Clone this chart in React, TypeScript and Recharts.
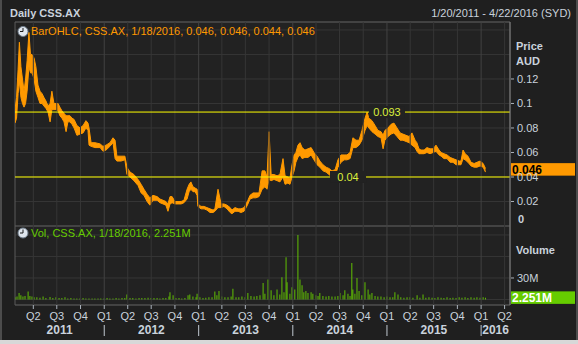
import React from "react";
import {
  ComposedChart,
  Area,
  Bar,
  XAxis,
  YAxis,
  CartesianGrid,
  ReferenceLine,
  ReferenceDot,
  ReferenceArea,
} from "recharts";

// ---------- data ----------
// x values are days counted from 2011-01-01
const priceDays = [
  19, 25, 31, 36, 42, 48, 54, 60, 66, 73,
  79, 85, 93, 100, 108, 116, 124, 131, 139, 147,
  155, 162, 170, 178, 186, 193, 201, 209, 217, 224,
  232, 240, 248, 259, 271, 283, 294, 302, 306, 314,
  329, 349, 360, 372, 387, 399, 407, 414, 430, 445,
  453, 465, 480, 496, 508, 519, 531, 542, 554, 570,
  581, 593, 604, 612, 620, 628, 639, 651, 663, 674,
  686, 694, 701, 709, 717, 725, 728, 740, 752, 763,
  775, 787, 794, 806, 818, 829, 841, 853, 860, 872,
  884, 895, 907, 915, 922, 930, 942, 953, 965, 977,
  988, 996, 1004, 1012, 1023, 1035, 1046, 1058, 1066, 1077,
  1085, 1093, 1101, 1108, 1116, 1124, 1132, 1143, 1155, 1167,
  1178, 1190, 1201, 1213, 1225, 1236, 1248, 1260, 1271, 1283,
  1295, 1306, 1318, 1329, 1341, 1353, 1364, 1376, 1384, 1391,
  1403, 1415, 1426, 1438, 1446, 1453, 1465, 1477, 1488, 1500,
  1512, 1523, 1535, 1547, 1558, 1570, 1577, 1585, 1593, 1605,
  1616, 1628, 1640, 1651, 1663, 1671, 1682, 1694, 1706, 1717,
  1729, 1741, 1748, 1756, 1764, 1775, 1787, 1799, 1810, 1822,
  1834, 1843,
];
const priceLows = [
  0.084, 0.088, 0.108, 0.118, 0.105, 0.1, 0.097, 0.1, 0.11, 0.13,
  0.125, 0.125, 0.12, 0.11, 0.105, 0.1, 0.1, 0.098, 0.096, 0.093,
  0.085, 0.095, 0.095, 0.095, 0.094, 0.09, 0.088, 0.085, 0.077, 0.085,
  0.085, 0.083, 0.08, 0.074, 0.075, 0.076, 0.08, 0.078, 0.066, 0.065,
  0.064, 0.064, 0.061, 0.062, 0.065, 0.068, 0.055, 0.053, 0.053, 0.054,
  0.042, 0.04, 0.037, 0.033, 0.027, 0.025, 0.02, 0.017, 0.021, 0.021,
  0.019, 0.018, 0.017, 0.012, 0.018, 0.019, 0.018, 0.018, 0.018, 0.019,
  0.022, 0.028, 0.03, 0.028, 0.028, 0.025, 0.016, 0.014, 0.014, 0.013,
  0.011, 0.011, 0.012, 0.015, 0.015, 0.016, 0.014, 0.011, 0.01, 0.012,
  0.012, 0.011, 0.012, 0.015, 0.018, 0.022, 0.023, 0.023, 0.024, 0.03,
  0.032, 0.03, 0.038, 0.037, 0.038, 0.037, 0.036, 0.04, 0.034, 0.035,
  0.034, 0.04, 0.045, 0.052, 0.056, 0.058, 0.055, 0.056, 0.056, 0.058,
  0.054, 0.05, 0.048, 0.045, 0.044, 0.042, 0.04, 0.041, 0.048, 0.052,
  0.054, 0.054, 0.055, 0.064, 0.064, 0.066, 0.07, 0.078, 0.082, 0.08,
  0.077, 0.075, 0.073, 0.072, 0.063, 0.07, 0.073, 0.075, 0.076, 0.073,
  0.07, 0.07, 0.069, 0.068, 0.066, 0.064, 0.061, 0.059, 0.059, 0.059,
  0.06, 0.059, 0.06, 0.061, 0.058, 0.057, 0.055, 0.055, 0.052, 0.052,
  0.05, 0.05, 0.05, 0.055, 0.054, 0.052, 0.049, 0.048, 0.048, 0.049,
  0.048, 0.044,
];
const priceHighs = [
  0.095, 0.105, 0.128, 0.15, 0.13, 0.12, 0.11, 0.12, 0.135, 0.158,
  0.14, 0.14, 0.137, 0.13, 0.115, 0.11, 0.108, 0.105, 0.102, 0.098,
  0.1, 0.11, 0.1, 0.1, 0.1, 0.097, 0.094, 0.092, 0.09, 0.09,
  0.09, 0.088, 0.087, 0.082, 0.08, 0.082, 0.086, 0.084, 0.08, 0.068,
  0.068, 0.067, 0.065, 0.066, 0.068, 0.072, 0.07, 0.057, 0.057, 0.057,
  0.048, 0.044, 0.042, 0.038, 0.034, 0.03, 0.026, 0.023, 0.025, 0.024,
  0.022, 0.021, 0.02, 0.018, 0.024, 0.024, 0.02, 0.02, 0.02, 0.021,
  0.03, 0.034, 0.036, 0.032, 0.031, 0.03, 0.018, 0.016, 0.016, 0.015,
  0.014, 0.013, 0.014, 0.03, 0.018, 0.018, 0.017, 0.015, 0.013, 0.015,
  0.014, 0.014, 0.015, 0.018, 0.021, 0.025, 0.027, 0.027, 0.027, 0.045,
  0.045, 0.04, 0.077, 0.042, 0.042, 0.041, 0.042, 0.055, 0.041, 0.04,
  0.039, 0.05, 0.058, 0.06, 0.066, 0.068, 0.064, 0.062, 0.063, 0.064,
  0.06, 0.057, 0.053, 0.05, 0.048, 0.047, 0.045, 0.046, 0.054, 0.058,
  0.058, 0.058, 0.06, 0.072, 0.07, 0.07, 0.078, 0.088, 0.093, 0.088,
  0.086, 0.082, 0.078, 0.077, 0.074, 0.078, 0.08, 0.083, 0.084, 0.08,
  0.076, 0.075, 0.074, 0.073, 0.076, 0.07, 0.068, 0.063, 0.062, 0.062,
  0.064, 0.063, 0.063, 0.066, 0.062, 0.06, 0.059, 0.058, 0.056, 0.055,
  0.054, 0.053, 0.053, 0.062, 0.059, 0.057, 0.052, 0.051, 0.052, 0.053,
  0.051, 0.047,
];

const volumeDays = [
  19, 27, 35, 42, 50, 58, 70, 77, 85, 93,
  104, 116, 128, 139, 155, 166, 178, 190, 201, 213,
  224, 236, 248, 259, 271, 283, 294, 306, 318, 329,
  341, 352, 364, 376, 387, 399, 411, 422, 434, 445,
  453, 465, 476, 488, 500, 511, 523, 535, 546, 558,
  570, 581, 593, 604, 616, 620, 632, 643, 655, 666,
  678, 690, 697, 709, 721, 725, 736, 748, 759, 771,
  783, 794, 802, 810, 821, 833, 845, 857, 864, 876,
  887, 899, 911, 922, 934, 946, 957, 969, 981, 988,
  1000, 1012, 1023, 1035, 1046, 1054, 1062, 1070, 1074, 1085,
  1093, 1104, 1116, 1124, 1132, 1139, 1147, 1155, 1167, 1174,
  1186, 1194, 1201, 1213, 1225, 1236, 1248, 1260, 1271, 1279,
  1291, 1298, 1310, 1318, 1325, 1329, 1337, 1345, 1353, 1364,
  1376, 1388, 1395, 1403, 1415, 1426, 1438, 1450, 1461, 1473,
  1484, 1492, 1504, 1515, 1527, 1539, 1550, 1562, 1578, 1589,
  1601, 1612, 1624, 1636, 1647, 1659, 1671, 1682, 1694, 1706,
  1717, 1729, 1741, 1752, 1764, 1775, 1787, 1799, 1810, 1822,
  1834, 1843,
];
const volumeMillions = [
  3, 4, 9, 6, 4, 5, 11, 5, 4, 3,
  3, 2.5, 4, 2, 3.5, 2, 3, 2, 2, 3,
  1.5, 2, 1.5, 1.5, 1.5, 2, 1.5, 1.5, 1.5, 1.5,
  1.5, 1.5, 1.5, 2, 1.5, 1.5, 2, 1.5, 2, 2,
  7, 2, 2, 1.5, 2, 2, 2, 2.5, 2, 2,
  2, 1.5, 2, 2, 4, 10, 6, 2, 2, 1.5,
  2, 6, 7, 4, 3, 8, 3, 2, 2.5, 3,
  3, 11, 6, 12, 4, 3, 3, 4, 15, 3,
  3, 4, 3, 9, 5, 4, 5, 6, 23, 8,
  28, 13, 6, 14, 7, 31, 10, 59, 24, 8,
  17, 14, 90, 28, 20, 10, 12, 9, 10, 8,
  6, 5, 9, 5, 4, 5, 4, 4, 5, 9,
  6, 13, 8, 5, 51, 14, 8, 30, 12, 6,
  24, 14, 7, 9, 5, 4, 4, 3, 4, 3,
  3, 10, 7, 3, 2.5, 3, 3, 2.5, 6, 2.5,
  7, 2.5, 3, 2.5, 2, 3, 2.5, 2, 3, 2,
  2.5, 2, 3, 2.5, 3, 2, 3, 2.5, 3, 2.5,
  3, 2.251,
];

const quarterDays = [
  90, 181, 273, 365, 456, 547, 639, 731, 821, 912, 1004,
  1096, 1186, 1277, 1369, 1461, 1551, 1642, 1734, 1826, 1917,
];
const quarterLabels = [
  "Q2", "Q3", "Q4", "Q1", "Q2", "Q3", "Q4", "Q1", "Q2", "Q3", "Q4",
  "Q1", "Q2", "Q3", "Q4", "Q1", "Q2", "Q3", "Q4", "Q1", "Q2",
];
const yearStartDays = [365, 731, 1096, 1461, 1826];
const yearLabelDays = [192, 548, 913, 1278, 1643, 1882];
const yearLabels = ["2011", "2012", "2013", "2014", "2015", "2016"];

const priceTicks = [0, 0.02, 0.04, 0.06, 0.08, 0.1, 0.12, 0.14, 0.16];
const priceTickLabels = ["0", "0.02", "0.04", "0.06", "0.08", "0.1", "0.12", "", ""];
const volumeTicks = [0, 30e6, 60e6, 90e6];
const volumeTickLabels = ["", "30M", "", ""];

const levelValues = [0.093, 0.04];
const levelLabels = ["0.093", "0.04"];
const levelLabelDays = [1461, 1310];

const lastPrice = 0.046;
const lastPriceLabel = "0.046";
const lastVolume = 2.251e6;
const lastVolumeLabel = "2.251M";

const X_DOMAIN: [number, number] = [19, 1938];
const PRICE_DOMAIN: [number, number] = [0, 0.1665];
const VOLUME_DOMAIN: [number, number] = [-7.7e6, 102.5e6];

const priceRows = priceDays.map((d, i) => ({ day: d, range: [priceLows[i], priceHighs[i]] }));
const volumeRows = volumeDays.map((d, i) => ({ day: d, vol: volumeMillions[i] * 1e6 }));
const dateTicks = [...quarterDays, ...yearLabelDays].sort((a, b) => a - b);

// ---------- style ----------
const FONT = '"Liberation Sans", Arial, sans-serif';
const TEXT = "#c9d2dc";
const ORANGE = "#ff9900";
const GREEN = "#66cc00";
const BG = "#1f1f1f";
const PLOT_BG = "#222222";
const GRID = "#363636";
const YEAR_GRID = "#424242";
const BORDER = "#5a5a5a";

const renderPriceTick = (p: any) => {
  const v = p.payload.value;
  const label = priceTickLabels[priceTicks.indexOf(v)];
  if (!label) return <g />;
  if (v === 0) {
    return (
      <text x={p.x + 1} y={p.y - 3} fill={TEXT} fontSize={11} fontWeight="bold" fontFamily={FONT}>
        {label}
      </text>
    );
  }
  return (
    <g>
      <line x1={p.x - 6} x2={p.x - 3} y1={p.y} y2={p.y} stroke="#aab2bb" />
      <text x={p.x} y={p.y + 4} fill={TEXT} fontSize={11} fontFamily={FONT}>
        {label}
      </text>
    </g>
  );
};

const renderVolumeTick = (p: any) => {
  const v = p.payload.value;
  const label = volumeTickLabels[volumeTicks.indexOf(v)];
  if (!label) return <g />;
  return (
    <g>
      <line x1={p.x - 6} x2={p.x - 3} y1={p.y} y2={p.y} stroke="#aab2bb" />
      <text x={p.x} y={p.y + 4} fill={TEXT} fontSize={11} fontFamily={FONT}>
        {label}
      </text>
    </g>
  );
};

const renderDateTick = (p: any) => {
  const v = p.payload.value;
  const qi = quarterDays.indexOf(v);
  const yi = yearLabelDays.indexOf(v);
  if (qi >= 0) {
    return (
      <g>
        <line x1={p.x} x2={p.x} y1={p.y} y2={p.y + 4} stroke="#aab2bb" />
        <text x={p.x} y={p.y + 15} textAnchor="middle" fill={TEXT} fontSize={11} fontFamily={FONT}>
          {quarterLabels[qi]}
        </text>
        {yearStartDays.includes(v) ? (
          <line x1={p.x} x2={p.x} y1={p.y + 20} y2={p.y + 31} stroke="#c0c8d0" />
        ) : null}
      </g>
    );
  }
  if (yi >= 0) {
    return (
      <text x={p.x} y={p.y + 28.6} textAnchor="middle" fill={TEXT} fontSize={12} fontWeight="bold" fontFamily={FONT}>
        {yearLabels[yi]}
      </text>
    );
  }
  return <g />;
};

const valueTag = (text: string, bg: string, color: string) => (props: any) => {
  const vb = props.viewBox || {};
  const x = vb.x + vb.width + 1;
  const y = vb.y;
  return (
    <g>
      <rect x={x} y={y - 6.5} width={64} height={12.5} fill={bg} />
      <text x={x + 1} y={y + 4.3} fill={color} fontSize={12} fontWeight="bold" fontFamily={FONT}>
        {text}
      </text>
    </g>
  );
};

const levelTag = (text: string) => (props: any) => {
  const { cx, cy } = props;
  return (
    <g>
      <rect x={cx - 18} y={cy - 6} width={36} height={12} fill={PLOT_BG} />
      <text x={cx} y={cy + 4} textAnchor="middle" fill="#dcf03c" fontSize={11} fontFamily={FONT}>
        {text}
      </text>
    </g>
  );
};

const Clock = ({ cx, cy }: { cx: number; cy: number }) => (
  <g>
    <circle cx={cx} cy={cy} r={5} fill="#dfe6ee" stroke="#6f7c8a" />
    <line x1={cx} y1={cy} x2={cx} y2={cy - 3.5} stroke="#1a1a1a" />
    <line x1={cx} y1={cy} x2={cx - 3} y2={cy} stroke="#1a1a1a" />
  </g>
);

export default function App() {
  return (
    <div
      style={{
        position: "absolute",
        left: 0,
        top: 0,
        width: 578,
        height: 344,
        background: BG,
        overflow: "hidden",
        fontFamily: FONT,
      }}
    >
      <div style={{ position: "absolute", left: 0, top: 0 }}>
        <ComposedChart width={578} height={226} data={priceRows} margin={{ top: 22, right: 0, bottom: 0, left: 15 }}>
          <CartesianGrid vertical={false} stroke={GRID} fill={PLOT_BG} fillOpacity={1} />
          <XAxis dataKey="day" type="number" domain={X_DOMAIN} hide allowDataOverflow />
          <YAxis
            orientation="right"
            width={68}
            domain={PRICE_DOMAIN}
            ticks={priceTicks}
            interval={0}
            tick={renderPriceTick}
            tickLine={false}
            tickSize={4}
            tickMargin={3}
            axisLine={{ stroke: "#7a7a7a" }}
            allowDataOverflow
          />
          {quarterDays.map((d) => (
            <ReferenceLine key={"pq" + d} x={d} stroke={yearStartDays.includes(d) ? YEAR_GRID : GRID} />
          ))}
          <ReferenceArea
            x1={X_DOMAIN[0]}
            x2={X_DOMAIN[1]}
            y1={PRICE_DOMAIN[0]}
            y2={PRICE_DOMAIN[1]}
            fill="none"
            stroke={BORDER}
            ifOverflow="visible"
          />
          <Area
            dataKey="range"
            type="linear"
            stroke={ORANGE}
            strokeWidth={1}
            fill={ORANGE}
            fillOpacity={1}
            dot={false}
            activeDot={false}
            isAnimationActive={false}
          />
          {levelValues.map((v) => (
            <ReferenceLine key={"lv" + v} y={v} stroke="#ffff00" />
          ))}
          {levelValues.map((v, i) => (
            <ReferenceDot key={"ld" + v} x={levelLabelDays[i]} y={v} r={0} shape={levelTag(levelLabels[i])} />
          ))}
          <ReferenceLine y={lastPrice} stroke="none" label={valueTag(lastPriceLabel, ORANGE, "#000000")} />
        </ComposedChart>
      </div>

      <div style={{ position: "absolute", left: 0, top: 226 }}>
        <ComposedChart width={578} height={118} data={volumeRows} margin={{ top: 0, right: 0, bottom: 0, left: 15 }}>
          <CartesianGrid vertical={false} stroke={GRID} fill={PLOT_BG} fillOpacity={1} />
          <XAxis
            dataKey="day"
            type="number"
            domain={X_DOMAIN}
            ticks={dateTicks}
            interval={0}
            height={39}
            tick={renderDateTick}
            tickLine={false}
            axisLine={false}
            tickSize={0}
            tickMargin={0}
            allowDataOverflow
          />
          <YAxis
            orientation="right"
            width={68}
            domain={VOLUME_DOMAIN}
            ticks={volumeTicks}
            interval={0}
            tick={renderVolumeTick}
            tickLine={false}
            tickSize={4}
            tickMargin={3}
            axisLine={{ stroke: "#7a7a7a" }}
            allowDataOverflow
          />
          {quarterDays.map((d) => (
            <ReferenceLine key={"vq" + d} x={d} stroke={yearStartDays.includes(d) ? YEAR_GRID : GRID} />
          ))}
          <ReferenceArea
            x1={X_DOMAIN[0]}
            x2={X_DOMAIN[1]}
            y1={VOLUME_DOMAIN[0]}
            y2={VOLUME_DOMAIN[1]}
            fill="none"
            stroke={BORDER}
            ifOverflow="visible"
          />
          <Bar dataKey="vol" fill={GREEN} barSize={2} isAnimationActive={false} />
          <ReferenceLine y={lastVolume} stroke="none" label={valueTag(lastVolumeLabel, GREEN, "#ffffff")} />
        </ComposedChart>
      </div>

      <svg
        width={578}
        height={344}
        style={{ position: "absolute", left: 0, top: 0, pointerEvents: "none" }}
        fontFamily={FONT}
      >
        <text x={10} y={16.5} fill={TEXT} fontSize={11} fontWeight="bold">
          Daily CSS.AX
        </text>
        <text x={571} y={16.5} fill={TEXT} fontSize={11} textAnchor="end">
          1/20/2011 - 4/22/2016 (SYD)
        </text>
        <Clock cx={23} cy={31.5} />
        <text x={31} y={35} fill={ORANGE} fontSize={11}>
          BarOHLC, CSS.AX, 1/18/2016, 0.046, 0.046, 0.044, 0.046
        </text>
        <Clock cx={23} cy={233} />
        <text x={31} y={237} fill={GREEN} fontSize={11}>
          Vol, CSS.AX, 1/18/2016, 2.251M
        </text>
        <text x={516} y={50} fill={TEXT} fontSize={11} fontWeight="bold">
          Price
        </text>
        <text x={516} y={65} fill={TEXT} fontSize={11} fontWeight="bold">
          AUD
        </text>
        <text x={516} y={254} fill={TEXT} fontSize={11} fontWeight="bold">
          Volume
        </text>
        <rect x={0} y={0} width={2} height={344} fill="#4c4c4c" />
        <rect x={576} y={0} width={2} height={344} fill="#4c4c4c" />
        <rect x={0} y={340} width={578} height={4} fill="#d8d8d8" />
      </svg>
    </div>
  );
}
